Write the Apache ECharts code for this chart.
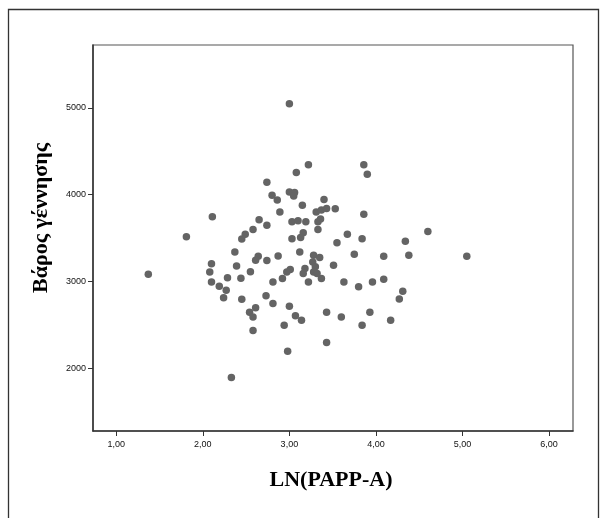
<!DOCTYPE html>
<html>
<head>
<meta charset="utf-8">
<script src="https://cdn.jsdelivr.net/npm/echarts@6/dist/echarts.min.js"></script>
<style>
html,body{margin:0;padding:0;background:#fff;}
#chart{width:605px;height:518px;}
</style>
</head>
<body>
<div id="chart"></div>
<script>
// LN(PAPP-A) values
const lnPappA = [
  3.00, 3.22, 3.86, 3.90, 3.08, 2.74, 2.80, 2.86, 3.00, 3.06,
  3.05, 3.15, 3.40, 3.31, 3.37, 3.43, 3.53, 2.89, 3.86, 2.11,
  2.65, 2.74, 3.03, 3.10, 3.19, 3.36, 3.33, 3.33, 2.58, 2.49,
  2.45, 3.03, 3.16, 3.13, 3.67, 3.84, 4.60, 4.34, 3.55, 1.81,
  2.37, 3.12, 3.75, 4.09, 4.38, 5.05, 2.87, 2.64, 2.61, 2.74,
  2.10, 2.08, 2.39, 2.55, 2.285, 2.44, 2.10, 2.19, 2.27, 2.24,
  1.37, 2.45, 2.73, 2.81, 2.61, 2.54, 2.58, 2.58, 3.00, 3.07,
  3.14, 2.94, 2.98, 2.33, 3.43, 3.43, 3.60, 3.84, 3.93, 4.17,
  4.31, 4.27, 4.09, 3.96, 3.80, 3.63, 3.51, 3.37, 3.22, 2.81,
  2.92, 3.01, 2.97, 3.18, 3.16, 3.28, 3.35, 3.27, 3.30, 3.28,
  3.32
];
// Birth weight (Βάρος γέννησης) values, same order
const birthWeight = [
  5046, 4344, 4344, 4236, 4256, 4144, 3995, 3940, 4030, 4025,
  3985, 3878, 3945, 3800, 3825, 3842, 3838, 3800, 3776, 3745,
  3712, 3650, 3688, 3699, 3688, 3720, 3690, 3600, 3600, 3546,
  3490, 3492, 3561, 3508, 3546, 3492, 3577, 3465, 3446, 3515,
  3342, 3342, 3316, 3293, 3304, 3293, 3296, 3293, 3247, 3242,
  3205, 3112, 3180, 3115, 3045, 3038, 2997, 2947, 2901, 2815,
  3085, 2798, 2838, 2748, 2700, 2648, 2594, 2437, 2717, 2609,
  2556, 2498, 2199, 1896, 2648, 2299, 2594, 2498, 2648, 2556,
  2890, 2801, 3028, 2997, 2940, 2997, 3189, 3036, 2997, 2997,
  3036, 3140, 3112, 3151, 3094, 3304, 3278, 3227, 3170, 3112,
  3094
];
const xTicks = [1, 2, 3, 4, 5, 6];
const yTicks = [2000, 3000, 4000, 5000];
const xTitle = 'LN(PAPP-A)';
const yTitle = 'Βάρος γέννησης';

const points = lnPappA.map((x, i) => [x, birthWeight[i]]);

const chart = echarts.init(document.getElementById('chart'));
const tickFont = {fontFamily: '"Liberation Sans Narrow", "Liberation Sans", sans-serif', fontSize: 9, color: '#111'};
chart.setOption({
  animation: false,
  backgroundColor: '#fff',
  grid: {left: 93, top: 45, right: 32, bottom: 87, show: true, borderColor: '#555', borderWidth: 1.2},
  xAxis: {
    type: 'value', min: 0.731, max: 6.277,
    axisLine: {show: true, onZero: false, lineStyle: {color: '#333', width: 1.5}},
    axisTick: {show: true, length: 5, customValues: xTicks, lineStyle: {color: '#333', width: 1}},
    axisLabel: Object.assign({customValues: xTicks, margin: 9,
      formatter: v => v.toFixed(2).replace('.', ',')}, tickFont),
    splitLine: {show: false}
  },
  yAxis: {
    type: 'value', min: 1282, max: 5722,
    axisLine: {show: true, onZero: false, lineStyle: {color: '#333', width: 1.5}},
    axisTick: {show: true, length: 5, customValues: yTicks, lineStyle: {color: '#333', width: 1}},
    axisLabel: Object.assign({customValues: yTicks, margin: 7,
      formatter: v => String(v)}, tickFont),
    splitLine: {show: false}
  },
  series: [{
    type: 'scatter',
    data: points,
    symbol: 'circle',
    symbolSize: 7.5,
    itemStyle: {color: '#646464', opacity: 1}
  }],
  graphic: [
    {type: 'rect', shape: {x: 8.5, y: 9.5, width: 590, height: 530}, style: {fill: null, stroke: '#333', lineWidth: 1.3}, silent: true},
    {type: 'text', x: 331, y: 480, style: {text: xTitle, font: 'bold 22px "Liberation Serif", "Times New Roman", serif', fill: '#000', textAlign: 'center', textVerticalAlign: 'middle'}},
    {type: 'text', x: 41, y: 218, rotation: Math.PI / 2, style: {text: yTitle, font: 'bold 22px "Liberation Serif", "Times New Roman", serif', fill: '#000', textAlign: 'center', textVerticalAlign: 'middle'}}
  ]
});
</script>
</body>
</html>
